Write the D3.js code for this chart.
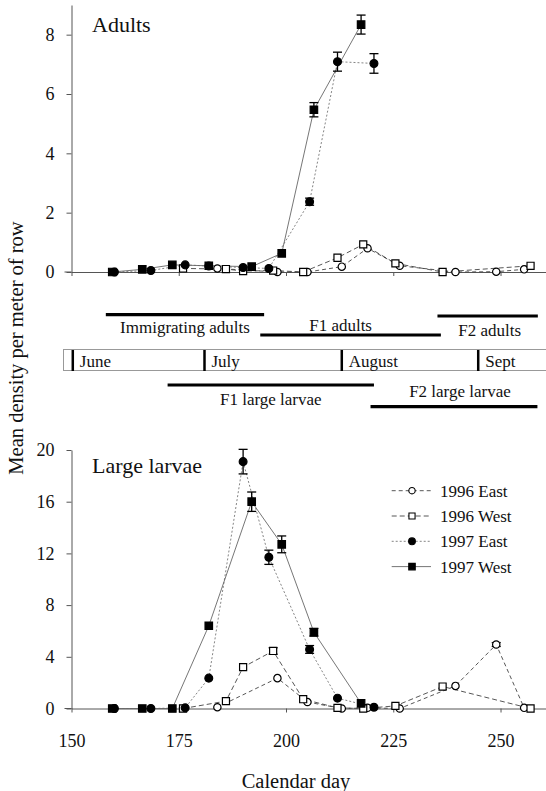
<!DOCTYPE html>
<html>
<head>
<meta charset="utf-8">
<script src="https://cdn.jsdelivr.net/npm/d3@7"></script>
<style>
  body { margin: 0; background: #fff; }
  svg { display: block; }
  svg text { font-family: "Liberation Serif", "Times New Roman", serif !important; fill: #111; }
</style>
</head>
<body>
<svg id="chart" width="546" height="791"></svg>
<script>
// sampling days (calendar day) per series
const days96E = [184, 198, 205, 213, 219, 226.5, 239.5, 249, 255.5];
const days96W = [176, 186, 190, 197, 204, 212, 218, 225.5, 236.5, 257];
const days97E = [160, 168.5, 176.5, 182, 190, 196, 205.5, 212, 220.5];
const days97W = [159.5, 166.5, 173.5, 182, 192, 199, 206.5, 217.5];

// adults, mean density per meter of row
const adults96E = [0.12, 0.0, 0.0, 0.18, 0.8, 0.21, 0.0, 0.01, 0.09];
const adults96W = [0.12, 0.1, 0.03, 0.05, 0.0, 0.48, 0.93, 0.29, 0.0, 0.21];
const adults97E = [0.0, 0.05, 0.24, 0.2, 0.15, 0.12, 2.37, 7.09, 7.03];
const adults97W = [0.0, 0.09, 0.24, 0.21, 0.18, 0.63, 5.47, 8.34];
const adultsErr97E = [0, 0, 0, 0, 0, 0, 0.12, 0.32, 0.33];
const adultsErr97W = [0, 0, 0, 0, 0, 0, 0.24, 0.32];

// large larvae
const larvae96E = [0.1, 2.35, 0.5, 0.0, 0.05, 0.0, 1.75, 4.95, 0.05];
const larvae96W = [0.0, 0.57, 3.2, 4.45, 0.72, 0.05, 0.0, 0.2, 1.7, 0.0];
const larvae97E = [0.0, 0.0, 0.05, 2.35, 19.1, 11.7, 4.57, 0.8, 0.1];
const larvae97W = [0.0, 0.0, 0.0, 6.4, 16.0, 12.7, 5.9, 0.4];
const larvaeErr96E = [0, 0, 0, 0, 0, 0, 0, 0.15, 0];
const larvaeErr96W = [0, 0, 0, 0.25, 0, 0, 0, 0, 0, 0];
const larvaeErr97E = [0, 0, 0, 0, 0.95, 0.55, 0.3, 0, 0];
const larvaeErr97W = [0, 0, 0, 0, 0.75, 0.65, 0.3, 0];

const seriesNames = ["1996 East", "1996 West", "1997 East", "1997 West"];

// calendar strip
const monthNames = ["June", "July", "August", "Sept"];
const monthStart = [150.3, 181, 213, 244.8];
const phaseNames = ["Immigrating adults", "F1 adults", "F2 adults", "F1 large larvae", "F2 large larvae"];
const phaseStart = [158, 194, 235.3, 172.4, 219.7];
const phaseEnd = [194.9, 236.1, 258.7, 220.5, 258.6];

const xTicks = [150, 175, 200, 225, 250];
const adultTicks = [0, 2, 4, 6, 8];
const larvaeTicks = [0, 4, 8, 12, 16, 20];

// styles
const styles = [
    { shape: d3.symbolCircle, size: 42, fill: "#fff", dash: "4,3", color: "#444" },
    { shape: d3.symbolSquare, size: 50, fill: "#fff", dash: "5,3", color: "#444" },
    { shape: d3.symbolCircle, size: 48, fill: "#000", dash: "2,2", color: "#777" },
    { shape: d3.symbolSquare, size: 56, fill: "#000", dash: null, color: "#666" }
];

const svg = d3.select("#chart");
const x = d3.scaleLinear().domain([150, 260.6]).range([71.5, 546]);
const yA = d3.scaleLinear().domain([0, 9]).range([272, 5]);
const yL = d3.scaleLinear().domain([0, 20]).range([708.5, 450]);

function MakeSeries(daysList, valuesList, errList) {
    return daysList.map((ds, i) => ds.map((d, j) => ({
        day: d, v: valuesList[i][j], e: errList[i] ? errList[i][j] : 0
    })));
}

const adultSeries = MakeSeries([days96E, days96W, days97E, days97W],
    [adults96E, adults96W, adults97E, adults97W],
    [null, null, adultsErr97E, adultsErr97W]);
const larvaeSeries = MakeSeries([days96E, days96W, days97E, days97W],
    [larvae96E, larvae96W, larvae97E, larvae97W],
    [larvaeErr96E, larvaeErr96W, larvaeErr97E, larvaeErr97W]);

function DrawPanel(series, y, ticks, title, titleY, showDays) {
    const g = svg.append("g");

    // axes
    const ya = g.append("g")
        .attr("transform", `translate(${x(150)},0)`)
        .call(d3.axisLeft(y).tickValues(ticks).tickSize(5).tickSizeOuter(0).tickPadding(12));
    ya.selectAll("text").style("font-size", "18px");
    ya.selectAll("path, line").attr("stroke", "#555");

    const xAxis = d3.axisBottom(x).tickValues(xTicks).tickSize(4).tickSizeOuter(0).tickPadding(22);
    if (!showDays) xAxis.tickFormat("");
    const xa = g.append("g")
        .attr("transform", `translate(0,${y(0)})`)
        .call(xAxis);
    xa.selectAll("path, line").attr("stroke", "#555");
    xa.selectAll("text").style("font-size", "18px");
    g.append("line")
        .attr("x1", x(150) - 7).attr("x2", x(150))
        .attr("y1", y(0)).attr("y2", y(0))
        .attr("stroke", "#555");

    // lines
    const line = d3.line().x(d => x(d.day)).y(d => y(d.v));
    g.append("g")
        .selectAll("path")
        .data(series)
        .join("path")
        .attr("fill", "none")
        .attr("stroke", (d, i) => styles[i].color)
        .attr("stroke-width", 0.9)
        .attr("stroke-dasharray", (d, i) => styles[i].dash)
        .attr("d", line);

    // error bars
    series.forEach((s, i) => {
        const eg = g.append("g").attr("stroke", "#000").attr("stroke-width", 1.3);
        s.filter(d => d.e > 0).forEach(d => {
            const cx = x(d.day);
            eg.append("line").attr("x1", cx).attr("x2", cx).attr("y1", y(d.v - d.e)).attr("y2", y(d.v + d.e));
            eg.append("line").attr("x1", cx - 4.5).attr("x2", cx + 4.5).attr("y1", y(d.v - d.e)).attr("y2", y(d.v - d.e));
            eg.append("line").attr("x1", cx - 4.5).attr("x2", cx + 4.5).attr("y1", y(d.v + d.e)).attr("y2", y(d.v + d.e));
        });
    });

    // markers
    series.forEach((s, i) => {
        const st = styles[i];
        g.append("g")
            .selectAll("path")
            .data(s)
            .join("path")
            .attr("transform", d => `translate(${x(d.day)},${y(d.v)})`)
            .attr("d", d3.symbol().type(st.shape).size(st.size))
            .attr("fill", st.fill)
            .attr("stroke", "#000")
            .attr("stroke-width", 1.2);
    });

    g.append("text")
        .attr("x", 92)
        .attr("y", titleY)
        .style("font-size", "22px")
        .text(title);
}

DrawPanel(adultSeries, yA, adultTicks, "Adults", 31.5, false);
DrawPanel(larvaeSeries, yL, larvaeTicks, "Large larvae", 473, true);

// calendar strip
const strip = svg.append("g");
strip.append("line").attr("x1", 63).attr("x2", 546).attr("y1", 349.5).attr("y2", 349.5)
    .attr("stroke", "#999").attr("stroke-width", 1);
strip.append("line").attr("x1", 63).attr("x2", 546).attr("y1", 370.5).attr("y2", 370.5)
    .attr("stroke", "#999").attr("stroke-width", 1);
strip.append("line").attr("x1", 63.5).attr("x2", 63.5).attr("y1", 349.5).attr("y2", 370.5)
    .attr("stroke", "#999").attr("stroke-width", 1);

strip.selectAll("line.sep")
    .data(monthStart)
    .join("line")
    .attr("class", "sep")
    .attr("x1", d => x(d)).attr("x2", d => x(d))
    .attr("y1", 350).attr("y2", 371)
    .attr("stroke", "#000").attr("stroke-width", 2.5);

strip.selectAll("text.month")
    .data(monthNames)
    .join("text")
    .attr("class", "month")
    .attr("x", (d, i) => x(monthStart[i]) + 7)
    .attr("y", 367)
    .style("font-size", "17px")
    .text(d => d);

// bar row y, label baseline y, label x shift
const phaseLayout = [
    { barY: 314.7, textY: 332.5, dx: 0 },
    { barY: 335, textY: 330.5, dx: -10 },
    { barY: 316, textY: 335.5, dx: 2 },
    { barY: 385, textY: 404.5, dx: 0 },
    { barY: 406.7, textY: 397.3, dx: 6 }
];

phaseNames.forEach((name, i) => {
    const L = phaseLayout[i];
    strip.append("line")
        .attr("x1", x(phaseStart[i])).attr("x2", x(phaseEnd[i]))
        .attr("y1", L.barY).attr("y2", L.barY)
        .attr("stroke", "#000").attr("stroke-width", 3.2);
    strip.append("text")
        .attr("x", (x(phaseStart[i]) + x(phaseEnd[i])) / 2 + L.dx)
        .attr("y", L.textY)
        .attr("text-anchor", "middle")
        .style("font-size", "17px")
        .text(name);
});

// legend
const legend = svg.append("g");
seriesNames.forEach((name, i) => {
    const st = styles[i];
    const ly = 490.7 + i * 25.3;
    legend.append("line")
        .attr("x1", 391.7).attr("x2", 431)
        .attr("y1", ly).attr("y2", ly)
        .attr("stroke", st.color).attr("stroke-width", 0.9)
        .attr("stroke-dasharray", st.dash);
    legend.append("path")
        .attr("transform", `translate(412,${ly})`)
        .attr("d", d3.symbol().type(st.shape).size(st.size * 0.75))
        .attr("fill", st.fill).attr("stroke", "#000").attr("stroke-width", 1.1);
    legend.append("text")
        .attr("x", 440)
        .attr("y", ly + 6)
        .style("font-size", "17px")
        .text(name);
});

// axis titles
svg.append("text")
    .attr("transform", "translate(23,348) rotate(-90)")
    .attr("text-anchor", "middle")
    .style("font-size", "20.5px")
    .text("Mean density per meter of row");

svg.append("text")
    .attr("x", 296)
    .attr("y", 788)
    .attr("text-anchor", "middle")
    .style("font-size", "20.5px")
    .text("Calendar day");
</script>
</body>
</html>
